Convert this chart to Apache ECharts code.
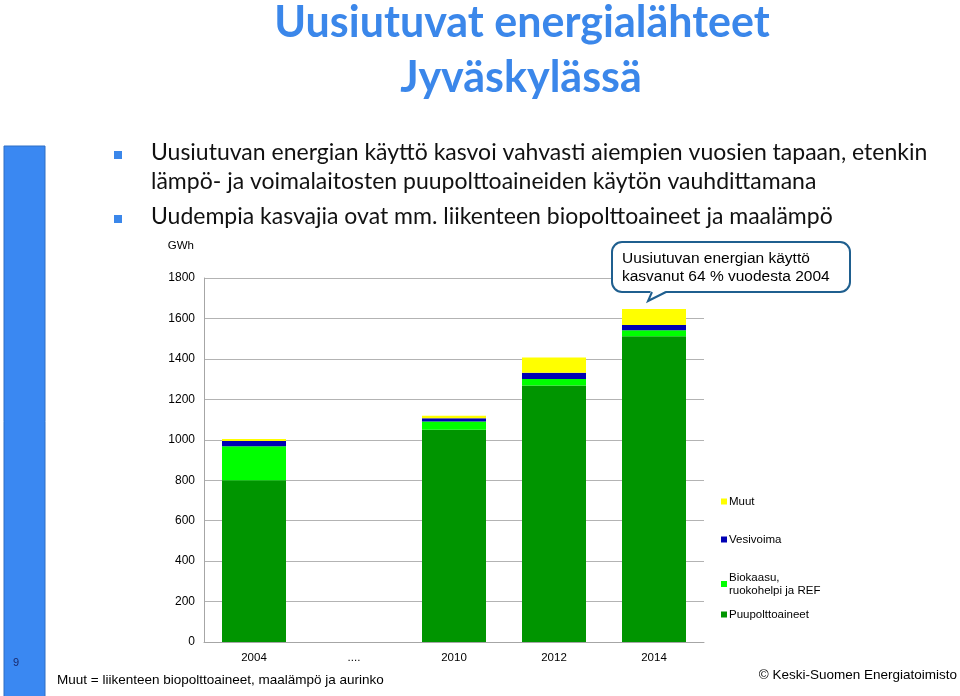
<!DOCTYPE html>
<html>
<head>
<meta charset="utf-8">
<script src="https://cdn.jsdelivr.net/npm/echarts@6/dist/echarts.min.js"></script>
<style>
html,body{margin:0;padding:0;background:#fff;}
#c{width:960px;height:696px;}
</style>
</head>
<body>
<div id="c"></div>
<script>
// ---- data ----
const categories = ['2004', '....', '2010', '2012', '2014'];
const puupolttoaineet = [800, null, 1050, 1268, 1512];
const biokaasu = [168, null, 40, 32, 30];
const vesivoima = [26, null, 17, 32, 25];
const muut = [10, null, 12, 75, 80];
const yTicks = [0, 200, 400, 600, 800, 1000, 1200, 1400, 1600, 1800];

const seriesNames = ['Puupolttoaineet', 'Biokaasu,\nruokohelpi ja REF', 'Vesivoima', 'Muut'];
const seriesColors = ['#009500', '#00ff00', '#0000b4', '#ffff00'];
const seriesData = [puupolttoaineet, biokaasu, vesivoima, muut];

const blue = '#3b87ea';
const bodyFont = 'Lato, "Open Sans", sans-serif';
const arial = 'Arial, "Liberation Sans", sans-serif';

const chart = echarts.init(document.getElementById('c'));

const legendTops = {
  'Muut': 490,
  'Vesivoima': 528,
  'Biokaasu,\nruokohelpi ja REF': 566,
  'Puupolttoaineet': 603
};

const legends = seriesNames.map(n => ({
  data: [n],
  left: 716,
  top: legendTops[n],
  orient: 'vertical',
  itemWidth: 6,
  itemHeight: 6,
  itemGap: 2,
  icon: 'rect',
  textStyle: {fontFamily: arial, fontSize: 11.5, color: '#000', lineHeight: 13, padding: [0, 0, 0, -3]},
  selectedMode: false
}));

chart.setOption({
  animation: false,
  backgroundColor: '#fff',
  grid: {left: 204, top: 278, width: 500, height: 364, containLabel: false},
  legend: legends,
  xAxis: {
    type: 'category',
    data: categories,
    axisLine: {show: true, lineStyle: {color: '#a6a6a6', width: 1}},
    axisTick: {show: false},
    axisLabel: {fontFamily: arial, fontSize: 11.5, color: '#000', margin: 10}
  },
  yAxis: {
    type: 'value',
    min: 0, max: 1800, interval: 200,
    name: 'GWh',
    nameLocation: 'end',
    nameGap: 26,
    nameTextStyle: {fontFamily: arial, fontSize: 11.5, color: '#000', align: 'right', padding: [0, 10, 0, 0]},
    axisLine: {show: true, lineStyle: {color: '#a6a6a6'}},
    axisTick: {show: false},
    splitLine: {lineStyle: {color: '#b3b3b3', width: 1}},
    axisLabel: {fontFamily: arial, fontSize: 12, color: '#000', margin: 9,
      formatter: v => yTicks.includes(v) ? String(v) : ''}
  },
  series: seriesNames.map((n, i) => ({
    name: n,
    type: 'bar',
    stack: 'total',
    barWidth: 64,
    itemStyle: {color: seriesColors[i]},
    data: seriesData[i]
  })),
  graphic: [
    {type: 'rect', shape: {x: 4, y: 146, width: 41, height: 560}, style: {fill: '#3a88f2', stroke: '#2f6fc4', lineWidth: 1}, z: 1},
    {type: 'text', x: 13, y: 657, style: {text: '9', font: '11px Arial', fill: '#1a2a6c'}, z: 2},
    {type: 'text', x: 522, y: 2, style: {text: 'Uusiutuvat energialähteet', font: 'bold 43px ' + bodyFont, fill: blue, textAlign: 'center'}},
    {type: 'text', x: 521, y: 57, style: {text: 'Jyväskylässä', font: 'bold 43px ' + bodyFont, fill: blue, textAlign: 'center'}},
    {type: 'rect', shape: {x: 114, y: 151, width: 8, height: 8}, style: {fill: blue}},
    {type: 'rect', shape: {x: 114, y: 215, width: 8, height: 8}, style: {fill: blue}},
    {type: 'text', x: 151, y: 141, style: {text: 'Uusiutuvan energian käyttö kasvoi vahvasti aiempien vuosien tapaan, etenkin', font: '23px ' + bodyFont, fill: '#111'}},
    {type: 'text', x: 151, y: 170, style: {text: 'lämpö- ja voimalaitosten puupolttoaineiden käytön vauhdittamana', font: '23px ' + bodyFont, fill: '#111'}},
    {type: 'text', x: 151, y: 205, style: {text: 'Uudempia kasvajia ovat mm. liikenteen biopolttoaineet ja maalämpö', font: '23px ' + bodyFont, fill: '#111'}},
    {type: 'rect', shape: {x: 612, y: 242, width: 238, height: 50, r: 10}, style: {fill: '#fff', stroke: '#1f5f8f', lineWidth: 2}, z: 10},
    {type: 'polygon', shape: {points: [[651, 290], [648, 301], [668, 290]]}, style: {fill: '#fff'}, z: 11},
    {type: 'polyline', shape: {points: [[652, 292], [648, 301], [666, 292]]}, style: {stroke: '#1f5f8f', lineWidth: 2, fill: null}, z: 12},
    {type: 'text', x: 622, y: 250, z: 13, style: {text: 'Uusiutuvan energian käyttö\nkasvanut 64 % vuodesta 2004', font: '15.5px ' + arial, lineHeight: 18, fill: '#000'}},
    {type: 'text', x: 57, y: 673, style: {text: 'Muut = liikenteen biopolttoaineet, maalämpö ja aurinko', font: '13.5px ' + arial, fill: '#000'}},
    {type: 'text', x: 957, y: 668, style: {text: '© Keski-Suomen Energiatoimisto', font: '13.5px ' + arial, fill: '#000', textAlign: 'right'}}
  ]
});
</script>
</body>
</html>
